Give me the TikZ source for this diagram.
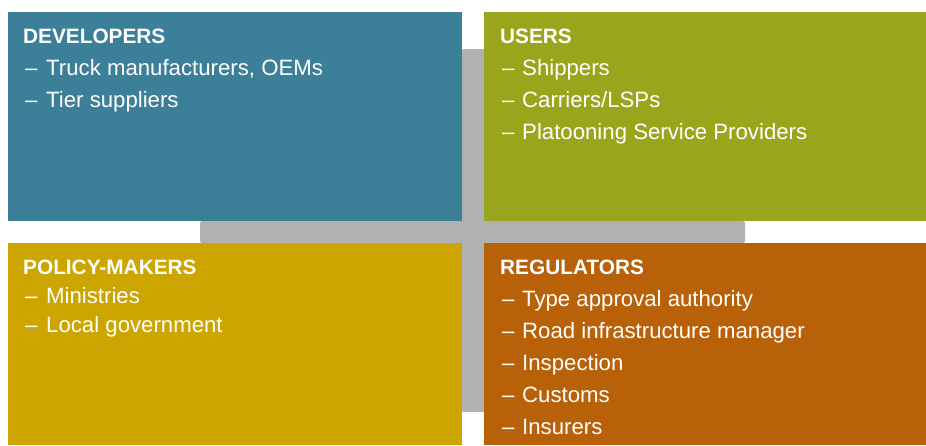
\documentclass[tikz,border=0pt]{standalone}
\usepackage{fontspec}
\setmainfont{Liberation Sans}
\definecolor{cteal}{RGB}{60,127,153}
\definecolor{cgreen}{RGB}{153,166,28}
\definecolor{cyellow}{RGB}{204,165,0}
\definecolor{corange}{RGB}{184,97,8}
\definecolor{cgray}{RGB}{177,177,179}
\tikzset{
  panel/.style={fill=#1, draw=none},
  head/.style={anchor=base west, inner sep=0pt, text=white, font=\fontsize{20.8}{24}\selectfont\bfseries},
  item/.style={anchor=base west, inner sep=0pt, text=white, font=\fontsize{22.2}{26}\selectfont},
}
\begin{document}
\begin{tikzpicture}[x=1pt,y=-1pt]
\useasboundingbox (0,0) rectangle (926,445);
% gray cross behind
\fill[cgray, rounded corners=1pt] (462,49) rectangle (484,412);
\fill[cgray, rounded corners=2pt] (200,221) rectangle (745,243);
% panels
\fill[panel=cteal] (8,12) rectangle (462,221);
\fill[panel=cgreen] (484,12) rectangle (926,221);
\fill[panel=cyellow] (8,243) rectangle (462,445);
\fill[panel=corange] (484,243) rectangle (926,445);
% developers
\node[head] (h1) at (23,43) {DEVELOPERS};
\node[item] (d1a) at (25,75) {–};
\node[item] (d1b) at (46,75) {Truck manufacturers, OEMs};
\node[item] (d2a) at (25,107) {–};
\node[item] (d2b) at (46,107) {Tier suppliers};
% users
\node[head] (h2) at (500,43) {USERS};
\node[item] (u1a) at (502,75) {–};
\node[item] (u1b) at (522,75) {Shippers};
\node[item] (u2a) at (502,107) {–};
\node[item] (u2b) at (522,107) {Carriers/LSPs};
\node[item] (u3a) at (502,139) {–};
\node[item] (u3b) at (522,139) {Platooning Service Providers};
% policy-makers
\node[head] (h3) at (23,274) {POLICY-MAKERS};
\node[item] (p1a) at (25,303) {–};
\node[item] (p1b) at (46,303) {Ministries};
\node[item] (p2a) at (25,332) {–};
\node[item] (p2b) at (46,332) {Local government};
% regulators
\node[head] (h4) at (500,274) {REGULATORS};
\node[item] (r1a) at (502,306) {–};
\node[item] (r1b) at (522,306) {Type approval authority};
\node[item] (r2a) at (502,338) {–};
\node[item] (r2b) at (522,338) {Road infrastructure manager};
\node[item] (r3a) at (502,370) {–};
\node[item] (r3b) at (522,370) {Inspection};
\node[item] (r4a) at (502,402) {–};
\node[item] (r4b) at (522,402) {Customs};
\node[item] (r5a) at (502,434) {–};
\node[item] (r5b) at (522,434) {Insurers};
\end{tikzpicture}
\end{document}
